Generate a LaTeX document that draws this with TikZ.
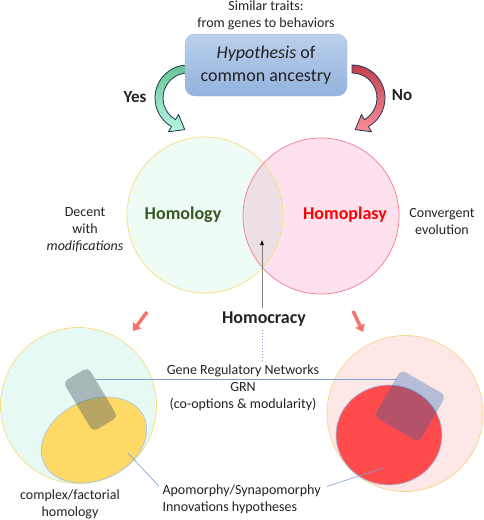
\documentclass[tikz,border=0pt]{standalone}
\usepackage{fontspec}
\setmainfont{Carlito}
\usetikzlibrary{calc,positioning,arrows.meta,shapes.geometric}

\definecolor{hypTop}{HTML}{BBD0EC}
\definecolor{hypBot}{HTML}{93B2DD}
\definecolor{hypEdge}{HTML}{9FBBE2}
\definecolor{yesTop}{HTML}{66C492}
\definecolor{yesBot}{HTML}{B8F6E0}
\definecolor{noTop}{HTML}{C2404F}
\definecolor{noBot}{HTML}{FA8E96}
\definecolor{arrEdge}{HTML}{1F3458}
\definecolor{homolFill}{HTML}{EFFCF5}
\definecolor{homolEdge}{HTML}{F4DF7C}
\definecolor{homopFill}{HTML}{FDE1EF}
\definecolor{homopEdge}{HTML}{F27C8C}
\definecolor{overlapFill}{HTML}{ECE0E6}
\definecolor{homolText}{HTML}{375623}
\definecolor{txt}{HTML}{222222}
\definecolor{downArr}{HTML}{F4736E}
\definecolor{cmplxFill}{HTML}{E7F9F3}
\definecolor{cmplxEdge}{HTML}{F6DD7E}
\definecolor{plasyFill}{HTML}{FDE7E7}
\definecolor{plasyEdge}{HTML}{F9D583}
\definecolor{apoYellow}{HTML}{FFD966}
\definecolor{apoRed}{HTML}{FF4B4B}
\definecolor{apoEdge}{HTML}{A4C4E8}
\definecolor{grnGrey}{RGB}{75,87,97}
\definecolor{grnBlue}{RGB}{15,95,180}
\definecolor{grnLine}{HTML}{7F9ED8}

\begin{document}
\begin{tikzpicture}[x=1pt, y=1pt,
    lbl/.style={font=\fontsize{14}{17}\selectfont, text=txt, align=center},
    bigbold/.style={font=\bfseries\fontsize{18}{22}\selectfont},
    curvarrow/.style={draw=arrEdge, line width=0.8pt, line join=round},
    downarrow/.style={draw=downArr, line width=3.5pt, -{Triangle[length=7pt,width=10pt]}},
    pointer/.style={draw=grnLine, line width=0.6pt}]
    \useasboundingbox (0,0) rectangle (484,-520);

    %% Yes / No arrows (behind the box)
    \coordinate (cyes) at (188,-98);
    \coordinate (cno) at (352,-98);
    \path[curvarrow, top color=yesTop, bottom color=yesBot] ($(cyes)+(90:33)$) arc[start angle=90, end angle=240, radius=33]
        -- ($(cyes)+(240:39)$) -- ($(cyes)+(240:29)+(330:13)$) -- ($(cyes)+(240:19)$) -- ($(cyes)+(240:25)$)
        arc[start angle=240, end angle=90, radius=25] -- cycle;
    \path[curvarrow, top color=noTop, bottom color=noBot] ($(cno)+(90:33)$) arc[start angle=90, end angle=-60, radius=33]
        -- ($(cno)+(-60:39)$) -- ($(cno)+(-60:29)+(210:13)$) -- ($(cno)+(-60:19)$) -- ($(cno)+(-60:25)$)
        arc[start angle=-60, end angle=90, radius=25] -- cycle;

    %% Question
    \node[rectangle, rounded corners=10pt, draw=hypEdge, top color=hypTop, bottom color=hypBot, minimum width=162pt, minimum height=62pt, align=center, text=txt, font=\fontsize{18}{23}\selectfont] (hyp) at (266,-65) {\textit{Hypothesis} of\\common ancestry};
    \node[lbl, above=0pt of hyp] (traits) {Similar traits:\\from genes to behaviors};
    \node[bigbold, font=\bfseries\fontsize{17}{20}\selectfont, text=txt] (yes) at (135,-97) {Yes};
    \node[bigbold, font=\bfseries\fontsize{17}{20}\selectfont, text=txt] (no) at (402,-95) {No};

    %% Venn diagram
    \node[circle, minimum size=156pt, inner sep=0pt, fill=homolFill] (homolC) at (205,-215) {};
    \node[circle, minimum size=156pt, inner sep=0pt, fill=homopFill] (homopC) at (321,-216) {};
    \begin{scope}
        \clip (205,-215) circle[radius=78];
        \fill[overlapFill] (321,-216) circle[radius=78];
    \end{scope}
    \draw[homolEdge, line width=0.7pt] (homolC.center) circle[radius=78];
    \draw[homopEdge, line width=0.7pt] (homopC.center) circle[radius=78];

    \node[bigbold, text=homolText] (homology) at (183,-215) {Homology};
    \node[bigbold, text=red] (homoplasy) at (345,-215) {Homoplasy};
    \node[lbl] (decent) at (85,-230) {Decent\\with\\\textit{modifications}};
    \node[lbl] (convergent) at (442,-222) {Convergent\\evolution};

    %% Homocracy
    \coordinate (overlap) at (262,-240);
    \node[bigbold, text=txt] (homocracy) at (264,-319) {Homocracy};
    \node[lbl] (grn) at (243,-388) {Gene Regulatory Networks\\GRN\\(co-options \& modularity)};
    \draw[gray, line width=0.6pt, -{Latex[color=black, length=5pt, width=4pt]}] (homocracy.north -| overlap) -- (overlap);
    \draw[grnLine, line width=0.6pt, dash pattern=on 1.5pt off 1.5pt] (homocracy.south -| overlap) -- (grn.north -| overlap);

    %% Down arrows
    \coordinate (dl1) at (147,-312);
    \coordinate (dl2) at (133,-331);
    \coordinate (dr1) at (353,-311);
    \coordinate (dr2) at (363,-332);
    \draw[downarrow] (dl1) -- (dl2);
    \draw[downarrow] (dr1) -- (dr2);

    %% Complex homology
    \node[circle, minimum size=156pt, inner sep=0pt, fill=cmplxFill, draw=cmplxEdge, line width=0.7pt] (cmplxC) at (78.5,-405.5) {};
    \node[ellipse, minimum width=110pt, minimum height=80pt, inner sep=0pt, rotate=25, fill=apoYellow, draw=apoEdge, line width=0.7pt] (apoL) at (94,-440) {};
    \node[rectangle, rounded corners=5pt, minimum width=29pt, minimum height=58pt, rotate=31, fill=grnGrey, fill opacity=0.4] (grnL) at (90.5,-399.5) {};

    %% Homoplasy side
    \node[circle, minimum size=156pt, inner sep=0pt, fill=plasyFill, draw=plasyEdge, line width=0.7pt] (plasyC) at (405,-413.5) {};
    \node[ellipse, minimum width=106pt, minimum height=100pt, inner sep=0pt, fill=apoRed, draw=apoEdge, line width=0.7pt] (apoR) at (389,-435) {};
    \node[rectangle, rounded corners=6pt, minimum width=52pt, minimum height=54pt, rotate=-30, fill=grnBlue, fill opacity=0.3] (grnR) at (410,-406) {};

    %% GRN link
    \coordinate (grnA) at (95,-379);
    \coordinate (grnB) at (397,-379);
    \draw[pointer] (grnA) -- (grnB);

    %% Labels below
    \node[lbl] (complex) at (70,-504) {complex/factorial\\homology};
    \node[lbl, align=left, anchor=west] (apo) at (159,-499) {Apomorphy/Synapomorphy\\Innovations hypotheses};
    \coordinate (apoPtL) at (128,-453);
    \coordinate (apoPtR) at (383,-468);
    \draw[pointer] (apoPtL) -- ($(apo.north west)!0.3!(apo.west)$);
    \draw[pointer] (apoPtR) -- ($(apo.north east)!0.3!(apo.east)+(3,0)$);
\end{tikzpicture}
\end{document}
